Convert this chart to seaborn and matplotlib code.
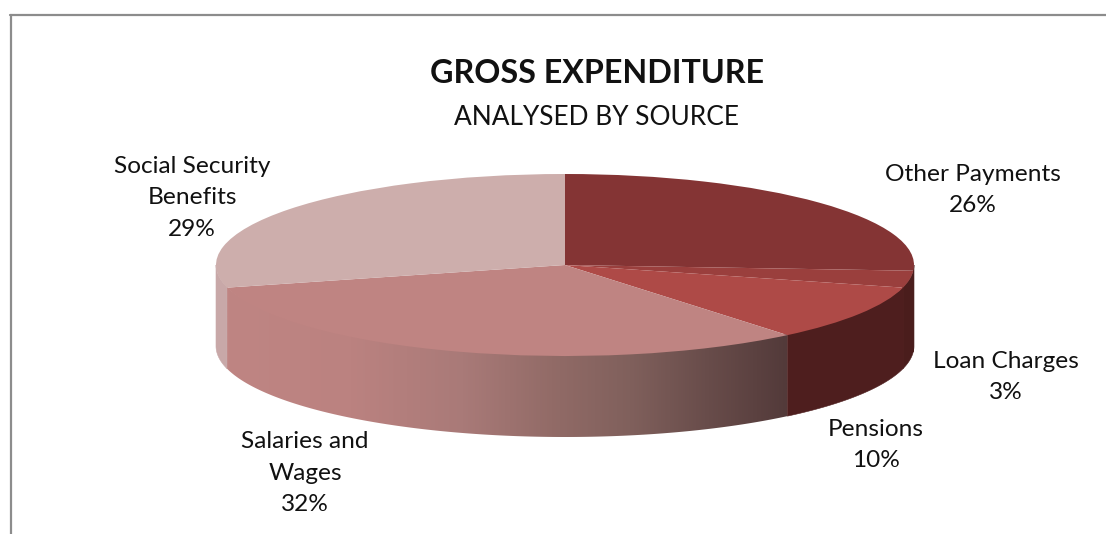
import numpy as np
import matplotlib
matplotlib.use("Agg")
import matplotlib.pyplot as plt
from matplotlib.colors import LinearSegmentedColormap
from matplotlib.lines import Line2D
from matplotlib.patches import Polygon
import seaborn as sns

# Expenditure shares, clockwise from twelve o'clock
categories = ["Other Payments", "Loan Charges", "Pensions", "Salaries and\nWages", "Social Security\nBenefits"]
shares = [26, 3, 10, 32, 29]

top_hex = ["#843434", "#9a3f3d", "#ae4a47", "#bf8482", "#cdaeac"]
rim_hex = ["#451c1b", "#4a1d1c", "#4e1e1e", "#bf8583", "#c8a8a8"]

title_text = "GROSS EXPENDITURE"
subtitle_text = "ANALYSED BY SOURCE"

W, H = 1106, 534
CX, CY, RX, RY, DEPTH = 565, 265, 349, 91, 81

sns.set_theme(style="white")
plt.rcParams["font.family"] = ["Lato", "DejaVu Sans"]
top_colors = sns.color_palette(top_hex)
rim_colors = sns.color_palette(rim_hex)

# Shading along the front of the salaries rim, left to right on screen
rim_shade = LinearSegmentedColormap.from_list(
    "rim_shade",
    [(0.0, "#bf8583"), (0.22, "#bb8280"), (0.42, "#a97a78"), (0.58, "#926b67"),
     (0.72, "#80605c"), (0.86, "#684c4a"), (1.0, "#533a3a")],
)

fig = plt.figure(figsize=(W / 100, H / 100), dpi=100)
ax = fig.add_axes([0, 0, 1, 1])

# The top face is an ordinary pie stretched by the axes limits
wedges, _ = ax.pie(shares, colors=top_colors, startangle=90, counterclock=False,
                   radius=1, center=(0, 0), frame=False,
                   wedgeprops={"linewidth": 0, "edgecolor": "none"})
for w in wedges:
    w.set_zorder(3)

drop = DEPTH / RY
edges = np.cumsum([0] + shares) / sum(shares) * 2 * np.pi  # clockwise from the top

# Rim of every slice that faces the viewer; its upper edge tucks under the top face
for i, name in enumerate(categories):
    lo, hi = max(edges[i], np.pi / 2), min(edges[i + 1], 3 * np.pi / 2)
    if lo >= hi:
        continue
    arc = np.linspace(lo, hi, 200)
    xs, ys = np.sin(arc), np.cos(arc)
    outline = np.c_[np.r_[xs, xs[::-1]], np.r_[ys * 0.97, ys[::-1] - drop]]
    if i == 3:
        # Left-to-right gradient clipped to the slice's rim
        clip = Polygon(outline, transform=ax.transData, fc="none", ec="none")
        ax.add_patch(clip)
        shade = ax.imshow(np.linspace(0, 1, 512)[None, :], cmap=rim_shade, aspect="auto",
                          extent=(xs.min(), xs.max(), ys.min() - drop, ys.max()),
                          interpolation="bilinear", zorder=1)
        shade.set_clip_path(clip)
    else:
        ax.add_patch(Polygon(outline, fc=rim_colors[i], ec=rim_colors[i], lw=0.4, zorder=2))

ax.set_aspect("auto")
ax.set_xlim(-CX / RX, (W - CX) / RX)
ax.set_ylim(-(H - CY) / RY, CY / RY)
ax.axis("off")


def px_text(x, y, s, **kw):
    fig.text(x / W, 1 - y / H, s, ha="center", va="center", color="#111111", **kw)


px_text(597, 73.5, title_text, fontsize=23.2, fontweight="bold")
px_text(597, 117.5, subtitle_text, fontsize=18.9)

label_pos = [(973, 190), (1006, 377), (876, 445), (305, 473), (192, 198)]
for name, share, (lx, ly) in zip(categories, shares, label_pos):
    px_text(lx, ly, f"{name}\n{share}%", fontsize=17.6, linespacing=1.62)

# Partial chart frame along the top and left
frame = "#8c8c8c"
fig.add_artist(Line2D([10 / W, 1], [1 - 15 / H] * 2, color=frame, lw=1.6))
fig.add_artist(Line2D([11 / W] * 2, [0, 1 - 15 / H], color=frame, lw=1.6))

fig.savefig("out.png", dpi=100, facecolor="white")
